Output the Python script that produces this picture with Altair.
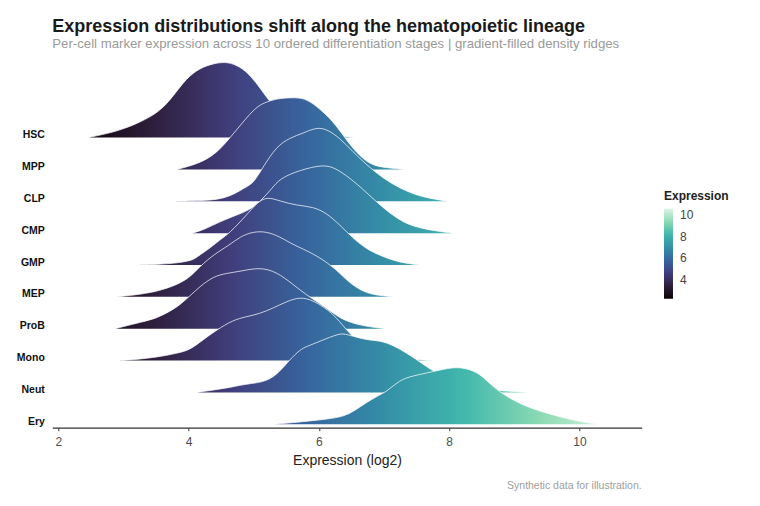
import altair as alt
import pandas as pd

FONT = "Liberation Sans"
TITLE = "Expression distributions shift along the hematopoietic lineage"
SUBTITLE = "Per-cell marker expression across 10 ordered differentiation stages | gradient-filled density ridges"
CAPTION = "Synthetic data for illustration."
X_TITLE = "Expression (log2)"
LEGEND_TITLE = "Expression"

STAGES = ["HSC", "MPP", "CLP", "CMP", "GMP", "MEP", "ProB", "Mono", "Neut", "Ery"]

HSC_X = [2.46, 2.90, 3.25, 3.56, 3.76, 3.97, 4.17, 4.40, 4.60, 4.79, 4.95, 5.10, 5.22, 5.45, 5.75, 6.05, 6.35, 6.58]
HSC_H = [0, 0.19, 0.47, 0.82, 1.29, 1.87, 2.18, 2.34, 2.38, 2.23, 1.95, 1.55, 1.20, 0.65, 0.25, 0.08, 0.03, 0]

MPP_X = [3.82, 4.17, 4.43, 4.63, 4.84, 5.04, 5.20, 5.40, 5.66, 5.81, 6.01, 6.22, 6.37, 6.50, 6.65, 6.83, 7.05, 7.32]
MPP_H = [0, 0.19, 0.51, 0.98, 1.50, 1.97, 2.13, 2.24, 2.26, 2.21, 1.92, 1.50, 1.08, 0.72, 0.38, 0.12, 0.05, 0]

CLP_X = [3.71, 4.20, 4.48, 4.70, 4.89, 5.00, 5.15, 5.35, 5.55, 5.76, 5.96, 6.12, 6.32, 6.52, 6.73, 6.98, 7.24, 7.55, 7.86, 7.97]
CLP_H = [0, 0.02, 0.06, 0.22, 0.46, 0.58, 1.10, 1.72, 1.99, 2.14, 2.32, 2.27, 1.99, 1.56, 1.15, 0.73, 0.41, 0.15, 0.04, 0]

CMP_X = [4.06, 4.25, 4.48, 4.74, 4.94, 5.10, 5.28, 5.40, 5.71, 6.07, 6.27, 6.58, 6.93, 7.19, 7.44, 7.85, 8.06]
CMP_H = [0, 0.12, 0.36, 0.57, 0.73, 1.00, 1.40, 1.72, 1.98, 2.16, 2.04, 1.57, 0.89, 0.47, 0.20, 0.05, 0]

GMP_X = [3.15, 3.56, 3.87, 4.07, 4.12, 4.33, 4.48, 4.63, 4.89, 5.05, 5.20, 5.40, 5.66, 5.91, 6.12, 6.32, 6.52, 6.70, 6.88, 7.14, 7.35, 7.55]
GMP_H = [0, 0.02, 0.07, 0.16, 0.24, 0.53, 0.79, 1.00, 1.57, 1.95, 2.15, 2.01, 1.87, 1.83, 1.63, 1.26, 0.85, 0.55, 0.35, 0.14, 0.05, 0]

MEP_X = [2.90, 3.41, 3.76, 4.02, 4.17, 4.40, 4.63, 4.79, 4.99, 5.20, 5.40, 5.61, 5.91, 6.22, 6.42, 6.63, 6.83, 7.16]
MEP_H = [0, 0.11, 0.32, 0.60, 0.95, 1.35, 1.63, 1.89, 2.05, 2.05, 1.89, 1.63, 1.37, 0.95, 0.53, 0.21, 0.06, 0]

PROB_X = [2.87, 3.30, 3.51, 3.71, 3.87, 4.02, 4.17, 4.38, 4.58, 4.79, 5.09, 5.35, 5.61, 5.81, 6.01, 6.22, 6.42, 6.73, 7.02]
PROB_H = [0, 0.22, 0.33, 0.54, 0.75, 1.03, 1.32, 1.64, 1.74, 1.80, 1.93, 1.79, 1.38, 1.06, 0.80, 0.49, 0.22, 0.07, 0]

MONO_X = [2.86, 3.15, 3.56, 3.82, 4.02, 4.22, 4.43, 4.68, 4.89, 5.09, 5.30, 5.50, 5.71, 5.91, 6.22, 6.42, 6.62, 6.85, 7.05, 7.35, 7.78]
MONO_H = [0, 0.02, 0.12, 0.23, 0.33, 0.65, 0.96, 1.27, 1.38, 1.47, 1.65, 1.85, 2.00, 1.90, 1.49, 0.96, 0.55, 0.25, 0.12, 0.05, 0]

NEUT_X = [4.12, 4.58, 4.89, 5.20, 5.40, 5.55, 5.71, 5.81, 6.01, 6.32, 6.42, 6.73, 6.93, 7.14, 7.44, 7.65, 7.85, 8.10, 8.40, 8.70, 9.00, 9.24]
NEUT_H = [0, 0.13, 0.27, 0.33, 0.65, 1.02, 1.34, 1.44, 1.60, 1.86, 1.83, 1.64, 1.63, 1.49, 1.12, 0.81, 0.55, 0.32, 0.15, 0.07, 0.03, 0]

ERY_X = [5.32, 6.01, 6.42, 6.63, 6.88, 7.04, 7.24, 7.44, 7.75, 8.06, 8.26, 8.47, 8.67, 8.88, 9.18, 9.59, 10.00, 10.31]
ERY_H = [0, 0.13, 0.24, 0.55, 0.87, 1.02, 1.39, 1.52, 1.65, 1.80, 1.76, 1.60, 1.18, 0.87, 0.55, 0.29, 0.08, 0]

RIDGES = {
    "HSC": (HSC_X, HSC_H), "MPP": (MPP_X, MPP_H), "CLP": (CLP_X, CLP_H),
    "CMP": (CMP_X, CMP_H), "GMP": (GMP_X, GMP_H), "MEP": (MEP_X, MEP_H),
    "ProB": (PROB_X, PROB_H), "Mono": (MONO_X, MONO_H), "Neut": (NEUT_X, NEUT_H),
    "Ery": (ERY_X, ERY_H),
}

X_TICKS = [2, 4, 6, 8, 10]
LEGEND_TICKS = [4, 6, 8, 10]
X_DOMAIN = [1.908, 10.956]
Y_DOMAIN = [-0.107, 11.6]
COLOR_DOMAIN = [2.25, 10.58]
MAKO = ["#0b0405", "#2e1e3b", "#413d7b", "#37659e", "#348fa7", "#40b7ad", "#8bdab2", "#def5e5"]

W, H = 589.4, 372.9


def hex_to_rgb(h):
    h = h.lstrip("#")
    return [int(h[i:i + 2], 16) for i in (0, 2, 4)]


MAKO_RGB = [hex_to_rgb(c) for c in MAKO]


def mako_color(v):
    t = (v - COLOR_DOMAIN[0]) / (COLOR_DOMAIN[1] - COLOR_DOMAIN[0])
    t = max(0.0, min(1.0, t))
    seg = t * (len(MAKO_RGB) - 1)
    i = min(int(seg), len(MAKO_RGB) - 2)
    f = seg - i
    a, b = MAKO_RGB[i], MAKO_RGB[i + 1]
    c = [round(a[k] + (b[k] - a[k]) * f) for k in range(3)]
    return "#%02x%02x%02x" % tuple(c)


n = len(STAGES)
label_expr = "[" + ",".join("'%s'" % s for s in reversed(STAGES)) + "][datum.value]"

x_enc = alt.X(
    "x:Q",
    scale=alt.Scale(domain=X_DOMAIN, nice=False, zero=False),
    axis=alt.Axis(
        values=X_TICKS, title=X_TITLE, grid=False, domain=True, domainColor="#333333",
        domainWidth=1.2, ticks=True, tickColor="#333333", tickSize=3, tickWidth=1,
        labelFont=FONT, labelFontSize=12, labelColor="#4d4d4d", labelPadding=6,
        titleFont=FONT, titleFontSize=14, titleFontWeight="normal", titleColor="#222222",
        titlePadding=6,
    ),
)
y_enc = alt.Y(
    "top:Q",
    scale=alt.Scale(domain=Y_DOMAIN, nice=False, zero=False),
    axis=alt.Axis(
        values=list(range(n)), labelExpr=label_expr, title=None, grid=False, domain=False,
        ticks=False, labelFont=FONT, labelFontSize=10.5, labelFontWeight="bold",
        labelColor="#111111", labelPadding=8, labelOffset=-3,
    ),
)

layers = []
all_frames = []
for i, s in enumerate(STAGES):
    xs, hs = RIDGES[s]
    base = n - 1 - i
    df = pd.DataFrame({"x": xs, "top": [base + h for h in hs], "base": base, "stage": s})
    all_frames.append(df)
    xmin, xmax = min(xs), max(xs)
    K = 20
    stops = [alt.GradientStop(offset=k / K, color=mako_color(xmin + k / K * (xmax - xmin))) for k in range(K + 1)]
    grad = alt.Gradient(gradient="linear", stops=stops, x1=0, x2=1, y1=0, y2=0)
    area = alt.Chart(df).mark_area(color=grad, interpolate="basis").encode(
        x=x_enc, y=y_enc, y2="base:Q"
    )
    line = alt.Chart(df).mark_line(color="white", strokeWidth=0.8, strokeOpacity=0.9,
                                   interpolate="basis").encode(x=x_enc, y=y_enc)
    layers += [area, line]

all_df = pd.concat(all_frames, ignore_index=True)
legend_layer = alt.Chart(all_df).mark_point(size=0, opacity=1, filled=True).encode(
    x=x_enc, y=y_enc,
    color=alt.Color(
        "x:Q",
        scale=alt.Scale(domain=COLOR_DOMAIN, range=MAKO, interpolate="rgb", nice=False, zero=False),
        legend=alt.Legend(
            title=LEGEND_TITLE, values=LEGEND_TICKS, orient="none", legendX=611.7, legendY=136,
            direction="vertical", gradientLength=90, gradientThickness=9,
            titleFont=FONT, titleFontSize=12, titleFontWeight="bold", titleColor="#222222",
            titlePadding=6, labelFont=FONT, labelFontSize=12, labelColor="#444444",
            labelOffset=7, gradientStrokeWidth=0,
        ),
    ),
)
layers.append(legend_layer)

caption = alt.Chart(pd.DataFrame({"t": [CAPTION]})).mark_text(
    align="right", baseline="middle", font=FONT, fontSize=10.5, color="#9e9e9e"
).encode(x=alt.value(W), y=alt.value(431.7), text="t:N")
layers.append(caption)

chart = alt.layer(*layers).properties(
    width=W, height=H,
    background="white",
    title=alt.TitleParams(
        text=TITLE, subtitle=SUBTITLE, anchor="start", frame="group",
        font=FONT, fontSize=18, fontWeight="bold", color="#1a1a1a",
        subtitleFont=FONT, subtitleFontSize=13.2, subtitleColor="#9a9a9a",
        subtitlePadding=2, offset=5,
    ),
    autosize=alt.AutoSizeParams(type="none"),
    padding={"left": 44.3, "top": 46.8, "right": 110, "bottom": 70},
).configure_view(stroke=None)

chart.save("out.html", embed_options={"renderer": "svg", "actions": False})
